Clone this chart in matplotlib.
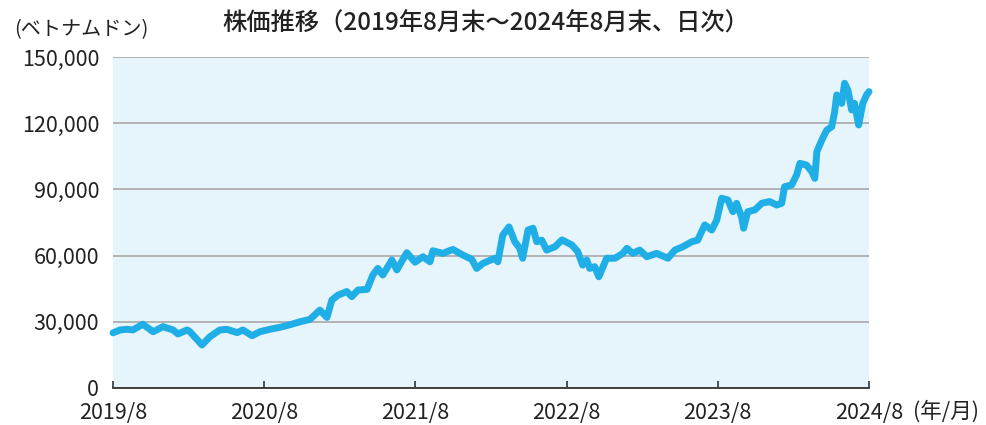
import matplotlib
matplotlib.use("Agg")
import matplotlib.pyplot as plt
import pandas as pd

plt.rcParams['font.family'] = ['Noto Sans CJK JP', 'DejaVu Sans']

title = "株価推移（2019年8月末～2024年8月末、日次）"
unit_label = "(ベトナムドン)"
period_label = "(年/月)"

dates = [
    "2019-08-30", "2019-09-16", "2019-10-03", "2019-10-17", "2019-11-10", "2019-12-05",
    "2019-12-29", "2020-01-22", "2020-02-03", "2020-02-25", "2020-03-03", "2020-04-01",
    "2020-04-20", "2020-05-14", "2020-05-31", "2020-06-25", "2020-07-09", "2020-07-31",
    "2020-08-19", "2020-09-12", "2020-10-06", "2020-10-31", "2020-11-24", "2020-12-18",
    "2021-01-11", "2021-01-28", "2021-02-09", "2021-02-24", "2021-03-17", "2021-03-29",
    "2021-04-13", "2021-05-05", "2021-05-19", "2021-05-31", "2021-06-12", "2021-07-04",
    "2021-07-16", "2021-08-09", "2021-08-29", "2021-09-17", "2021-10-04", "2021-10-11",
    "2021-11-04", "2021-11-28", "2021-12-22", "2022-01-13", "2022-01-25", "2022-02-09",
    "2022-03-10", "2022-03-17", "2022-03-29", "2022-04-13", "2022-04-27", "2022-05-09",
    "2022-05-16", "2022-05-29", "2022-06-10", "2022-06-19", "2022-07-01", "2022-07-13",
    "2022-08-02", "2022-08-19", "2022-09-12", "2022-09-26", "2022-10-08", "2022-10-18",
    "2022-10-25", "2022-11-06", "2022-11-16", "2022-12-05", "2022-12-25", "2023-01-13",
    "2023-01-23", "2023-02-06", "2023-02-23", "2023-03-12", "2023-04-05", "2023-05-02",
    "2023-05-19", "2023-06-07", "2023-06-29", "2023-07-13", "2023-07-30", "2023-08-16",
    "2023-08-28", "2023-09-09", "2023-09-24", "2023-10-06", "2023-10-15", "2023-10-27",
    "2023-11-01", "2023-11-11", "2023-11-28", "2023-12-15", "2024-01-03", "2024-01-20",
    "2024-02-01", "2024-02-08", "2024-02-25", "2024-03-08", "2024-03-16", "2024-04-01",
    "2024-04-14", "2024-04-21", "2024-04-26", "2024-05-08", "2024-05-20", "2024-06-01",
    "2024-06-08", "2024-06-13", "2024-06-25", "2024-07-02", "2024-07-10", "2024-07-19",
    "2024-07-26", "2024-08-05", "2024-08-15", "2024-08-24", "2024-08-30",
]
prices = [
    25000, 26300, 26600, 26300, 28900, 25500,
    27800, 26300, 24500, 26300, 25500, 19500,
    23200, 26300, 26600, 25100, 26300, 23700,
    25500, 26600, 27500, 28700, 30000, 31100,
    35300, 32000, 39900, 42100, 43700, 41400,
    44400, 44700, 51200, 54200, 51200, 58000,
    53500, 61300, 57000, 59500, 57200, 62200,
    61000, 62800, 60300, 58300, 54200, 56500,
    58800, 57200, 69300, 73000, 66300, 63300,
    58800, 71600, 72400, 66300, 67000, 62500,
    64000, 67100, 64800, 61800, 55700, 58000,
    54200, 55000, 50400, 58800, 58800, 61000,
    63300, 61000, 62500, 59500, 61000, 58800,
    62500, 64000, 66300, 67000, 73900, 71600,
    76100, 86000, 85200, 79900, 83700, 77600,
    72400, 79900, 80700, 83700, 84500, 82900,
    83700, 91200, 92000, 96500, 101800, 101000,
    98000, 95000, 107100, 112400, 116900, 118400,
    125200, 132800, 129000, 138100, 135000, 126000,
    129000, 119200, 129000, 132800, 134300,
]

tick_dates = ["2019-08-30", "2020-08-30", "2021-08-30", "2022-08-30", "2023-08-30", "2024-08-30"]
tick_labels = ["2019/8", "2020/8", "2021/8", "2022/8", "2023/8", "2024/8"]
y_ticks = [0, 30000, 60000, 90000, 120000, 150000]
y_labels = ["0", "30,000", "60,000", "90,000", "120,000", "150,000"]

x = pd.to_datetime(dates)
xt = pd.to_datetime(tick_dates)

fig = plt.figure(figsize=(9.87, 4.25), dpi=100)
ax = fig.add_axes([113/987, 1-388/425, (869-113)/987, (388-57)/425])
ax.set_facecolor("#E6F5FC")

ax.plot(x, prices, color="#20AEE6", linewidth=5.0, solid_joinstyle="round",
        solid_capstyle="round", zorder=3, clip_on=False)

ax.set_xlim(xt[0], xt[-1])
ax.set_ylim(0, 150000)
ax.set_yticks(y_ticks)
ax.set_yticklabels(y_labels)
ax.set_xticks(xt)
ax.set_xticklabels(tick_labels)

ax.grid(axis="y", color="#A8A8A8", linewidth=1.2, zorder=1)
ax.grid(axis="x", visible=False)
for s in ["left", "right", "top"]:
    ax.spines[s].set_visible(False)
ax.spines["bottom"].set_color("#333333")
ax.spines["bottom"].set_linewidth(1.3)
ax.spines["bottom"].set_zorder(4)

ax.tick_params(axis="y", length=0, pad=10, labelsize=15.5, labelcolor="#222222")
ax.tick_params(axis="x", direction="in", length=5, width=1.2, color="#333333",
               pad=10, labelsize=15.5, labelcolor="#222222")

fig.text(486/987, 1-24/425, title, ha="center", va="center", fontsize=17.5,
         fontweight="medium", color="#222222")
fig.text(14/987, 1-30/425, unit_label, ha="left", va="center", fontsize=14.5,
         color="#222222")
fig.text(913/987, 1-412/425, period_label, ha="left", va="center", fontsize=15.5,
         color="#222222")

fig.savefig("out.png", dpi=100)
